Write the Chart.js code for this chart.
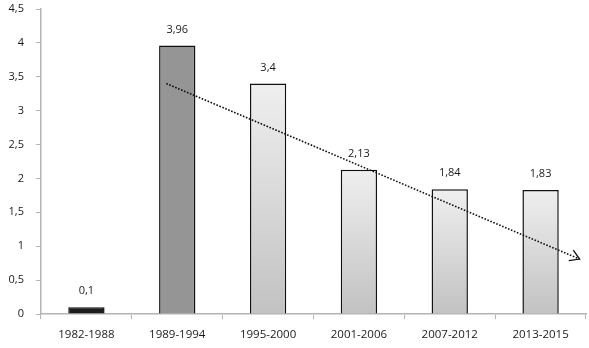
<!DOCTYPE html>
<html lang="es">
<head>
<meta charset="UTF-8" />
<title>Chart</title>
<script src="https://cdn.jsdelivr.net/npm/chart.js"></script>
<style>
    body { margin: 0; background: #fff; }
    #wrap { width: 589px; height: 348px; position: relative; }
</style>
</head>
<body>
<div id="wrap"><canvas id="grafico"></canvas></div>
<script>
    const categorias = ['1982-1988', '1989-1994', '1995-2000', '2001-2006', '2007-2012', '2013-2015'];
    const valores = [0.1, 3.96, 3.4, 2.13, 1.84, 1.83];
    const tendenciaX = [0.88, 5.43];
    const tendenciaY = [3.40, 0.81];

    const coma = v => String(v).replace('.', ',');

    // relleno de cada barra
    function colorBarra(ctx) {
        const i = ctx.dataIndex;
        if (i === 0) return '#1c1c1c';
        if (i === 1) return '#959595';
        const chart = ctx.chart;
        const y = chart.scales.y;
        if (!y || !chart.chartArea) return '#dcdcdc';
        const top = y.getPixelForValue(valores[i]);
        const bottom = y.getPixelForValue(0);
        const g = chart.ctx.createLinearGradient(0, top, 0, bottom);
        g.addColorStop(0, '#efefef');
        g.addColorStop(1, '#c2c2c2');
        return g;
    }

    const etiquetas = {
        id: 'etiquetas',
        afterDatasetsDraw(chart) {
            const c = chart.ctx;
            const meta = chart.getDatasetMeta(0);
            c.save();
            c.font = '11px "Open Sans"';
            c.fillStyle = '#1a1a1a';
            c.textAlign = 'center';
            c.textBaseline = 'middle';
            meta.data.forEach((bar, i) => {
                c.fillText(coma(valores[i]), bar.x, bar.y - 16);
            });

            // punta de flecha
            const pts = chart.getDatasetMeta(1).data;
            const a = pts[0], b = pts[pts.length - 1];
            const ang = Math.atan2(b.y - a.y, b.x - a.x);
            const len = 11;
            c.strokeStyle = '#111';
            c.lineWidth = 1.3;
            c.beginPath();
            c.moveTo(b.x - len * Math.cos(ang - 0.55), b.y - len * Math.sin(ang - 0.55));
            c.lineTo(b.x, b.y);
            c.lineTo(b.x - len * Math.cos(ang + 0.55), b.y - len * Math.sin(ang + 0.55));
            c.stroke();
            c.restore();
        }
    };

    new Chart(document.getElementById('grafico'), {
        type: 'bar',
        data: {
            labels: categorias,
            datasets: [{
                type: 'bar',
                data: valores,
                backgroundColor: colorBarra,
                borderColor: '#111',
                borderWidth: 1.5,
                borderSkipped: 'bottom',
                barPercentage: 0.4,
                categoryPercentage: 1,
                grouped: false,
                order: 2,
                xAxisID: 'x'
            }, {
                type: 'line',
                data: tendenciaX.map((x, i) => ({ x: x, y: tendenciaY[i] })),
                borderColor: '#111',
                borderWidth: 1.6,
                borderDash: [1.6, 1.6],
                pointRadius: 0,
                fill: false,
                order: 1,
                xAxisID: 'x2'
            }]
        },
        options: {
            responsive: true,
            maintainAspectRatio: false,
            animation: false,
            layout: { padding: { top: 9, right: 3, left: 0, bottom: 0 } },
            plugins: { legend: { display: false }, tooltip: { enabled: false } },
            scales: {
                x: {
                    offset: true,
                    grid: { display: true, drawOnChartArea: false, offset: true, color: '#b4b4b4', tickLength: 5, lineWidth: 1 },
                    border: { color: '#b4b4b4', width: 1.5 },
                    ticks: { color: '#1a1a1a', padding: 9, maxRotation: 0, font: { family: 'Open Sans', size: 11.5 } },
                    afterFit(s) { s.height = 34; }
                },
                x2: {
                    type: 'linear',
                    display: false,
                    offset: false,
                    grid: { offset: false },
                    min: -0.5,
                    max: 5.5
                },
                y: {
                    min: 0,
                    max: 4.5,
                    grid: { display: true, drawOnChartArea: false, color: '#b4b4b4', tickLength: 5 },
                    border: { color: '#b4b4b4', width: 1.5 },
                    ticks: { stepSize: 0.5, color: '#1a1a1a', padding: 12, font: { family: 'Open Sans', size: 11 }, callback: v => coma(v) },
                    afterFit(s) { s.width = 41; s.paddingTop = 0; s.paddingBottom = 0; }
                }
            }
        },
        plugins: [etiquetas]
    });
</script>
</body>
</html>
